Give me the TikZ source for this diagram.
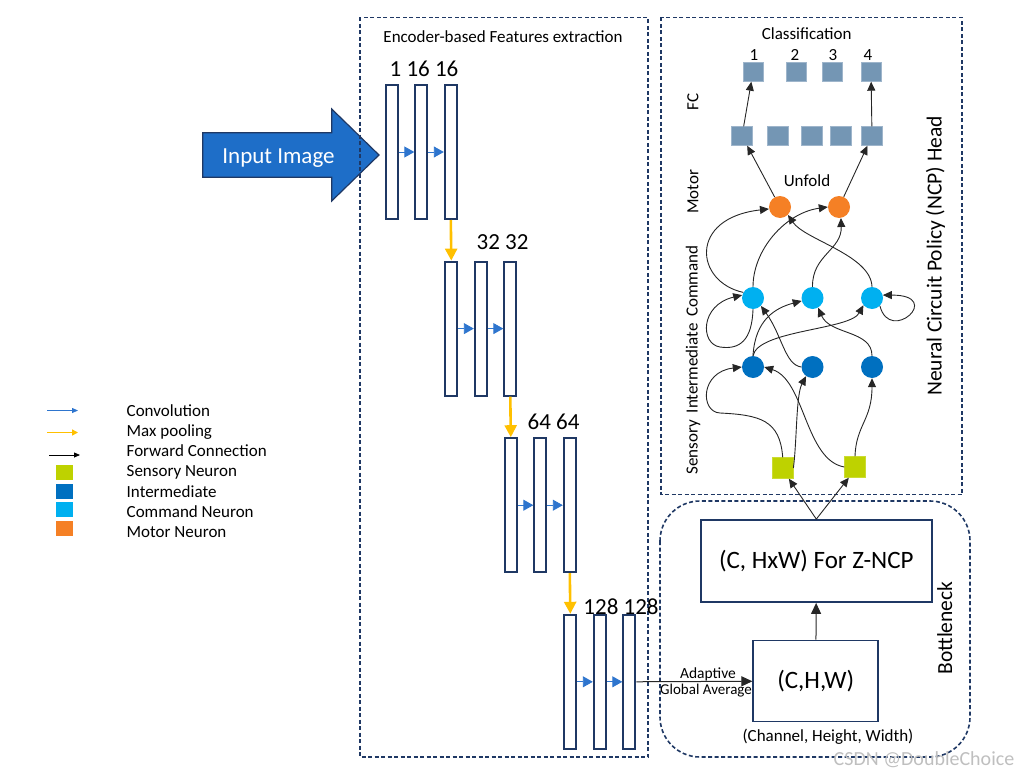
\documentclass[tikz,border=0pt]{standalone}
\usepackage{fontspec}
\setmainfont{Carlito}
\usetikzlibrary{arrows.meta}
\definecolor{navy}{RGB}{31,56,100}
\definecolor{convblue}{RGB}{46,117,206}
\definecolor{poolyellow}{RGB}{255,192,0}
\definecolor{sensorycol}{RGB}{190,210,0}
\definecolor{intercol}{RGB}{0,112,192}
\definecolor{commandcol}{RGB}{0,176,240}
\definecolor{motorcol}{RGB}{245,128,37}
\definecolor{fccol}{RGB}{116,150,180}
\definecolor{inputcol}{RGB}{30,110,200}
\tikzset{
    frame/.style={draw=navy, line width=1.6pt, dash pattern=on 4pt off 2.5pt},
    fmap/.style={draw=navy, line width=2pt, fill=white, minimum width=12pt, minimum height=134pt, inner sep=0pt},
    conv/.style={draw=convblue, line width=0.9pt, -{Triangle[length=10pt,width=11pt]}},
    pool/.style={draw=poolyellow, line width=2.6pt, -{Triangle[length=12pt,width=12pt]}},
    syn/.style={draw=black!85, line width=0.9pt, -{Triangle[length=9pt,width=8pt]}},
    bigarr/.style={draw=black!85, line width=1pt, -{Triangle[length=11pt,width=10pt]}},
    neuron/.style={circle, minimum size=22pt, inner sep=0pt},
    sensbox/.style={fill=sensorycol, draw=sensorycol!80!white, minimum size=21pt, inner sep=0pt},
    fcbox/.style={fill=fccol, draw=fccol!70!white, minimum width=20pt, minimum height=19pt, inner sep=0pt},
    legbox/.style={minimum width=17pt, minimum height=15pt, inner sep=0pt},
    legtxt/.style={anchor=base west, inner sep=0pt, font=\fontsize{17}{20}\selectfont},
    txt/.style={inner sep=0pt, font=\fontsize{17}{20}\selectfont},
    numtxt/.style={inner sep=0pt, font=\fontsize{23}{26}\selectfont},
    bigtxt/.style={inner sep=0pt, font=\fontsize{25}{28}\selectfont},
    sidetxt/.style={inner sep=0pt, rotate=90, font=\fontsize{21.5}{24}\selectfont},
    boxnode/.style={draw=navy, line width=1.8pt, fill=white, inner sep=0pt}
}
\begin{document}
\begin{tikzpicture}[x=1pt,y=-1pt]
                \useasboundingbox (0,0) rectangle (1025,776);

                % input arrow
                \draw[fill=inputcol, draw=navy, line width=1.2pt] (202.7,132.7) -- (331.7,132.7) -- (331.7,109) -- (379,155) -- (331.7,201) -- (331.7,177.3) -- (202.7,177.3) -- cycle;
                \node[numtxt, anchor=base, text=white] (inp) at (278.5,163.5) {Input Image};

                \draw[frame] (360,17.5) rectangle (648,757);
                \draw[frame] (661,17.5) rectangle (962,494.5);
                \draw[frame, rounded corners=40pt] (660,501) rectangle (970,757);

                % encoder
                \node[txt] (enc) at (503,37) {Encoder-based Features extraction};
                \foreach \g in {1,...,4} {
                    \foreach \k in {1,2,3} {
                        \node[fmap] (l\g\k) at ({391.8+(\g-1)*59.5+(\k-1)*29.5},{152+(\g-1)*176.6}) {};
                    }
                    \draw[conv] (l\g1) -- (l\g2);
                    \draw[conv] (l\g2) -- (l\g3);
                }
                \draw[pool] (l13.south) -- (l21.north);
                \draw[pool] (l23.south) -- (l31.north);
                \draw[pool] (l33.south) -- (l41.north);
                \node[numtxt] (lab1) at (424,69) {1 16 16};
                \node[numtxt] (lab2) at (502.5,242) {32 32};
                \node[numtxt] (lab3) at (553.5,422) {64 64};
                \node[numtxt] (lab4) at (621,607) {128 128};

                % bottleneck
                \node[boxnode, minimum width=231pt, minimum height=82pt, bigtxt] (z) at (816.3,561) {(C, HxW) For Z-NCP};
                \node[boxnode, minimum width=125pt, minimum height=81pt, bigtxt] (chw) at (815.8,681) {(C,H,W)};
                \node[txt] (chwtxt) at (828,737) {(Channel, Height, Width)};
                \draw[bigarr] (chw) -- (z);
                \draw[bigarr] (l43) -- (chw);
                \node[inner sep=0pt, font=\fontsize{15.5}{18}\selectfont] (adap) at (708,674) {Adaptive};
                \node[inner sep=0pt, font=\fontsize{15}{18}\selectfont] (gavg) at (706,691) {Global Average};
                \node[sidetxt] (bneck) at (944.7,628) {Bottleneck};

                % NCP head
                \node[txt] (cls) at (806.7,34) {Classification};
                \foreach \x [count=\i] in {754,795,833,868} {
                    \node[txt] (n\i) at (\x,55) {\i};
                }
                \foreach \x [count=\i] in {753,796,832,871} {
                    \node[fcbox] (o\i) at (\x,72) {};
                }
                \foreach \x [count=\i] in {742,778,812,840.5,872} {
                    \node[fcbox, minimum width=21pt] (f\i) at (\x,136) {};
                }
                \node[neuron, fill=motorcol] (m1) at (780,207) {};
                \node[neuron, fill=motorcol] (m2) at (839,207) {};
                \node[neuron, fill=commandcol] (c1) at (753,298) {};
                \node[neuron, fill=commandcol] (c2) at (812.5,298) {};
                \node[neuron, fill=commandcol] (c3) at (872,298) {};
                \node[neuron, fill=intercol] (i1) at (753,367) {};
                \node[neuron, fill=intercol] (i2) at (812.5,367) {};
                \node[neuron, fill=intercol] (i3) at (872,367) {};
                \node[sensbox] (s1) at (782.7,468) {};
                \node[sensbox] (s2) at (855,467) {};
                \node[txt] (unf) at (807,181) {Unfold};
                \node[txt, rotate=90] (fclab) at (693,102) {FC};
                \node[txt, rotate=90] (motlab) at (693,192) {Motor};
                \node[txt, rotate=90] (layers) at (693,360) {Sensory\, Intermediate\, Command};
                \node[sidetxt] (ncp) at (935.5,256) {Neural Circuit Policy (NCP) Head};

                \draw[syn] (f1) -- (o1);
                \draw[syn] (f5) -- (o4);
                \draw[syn] (m1) -- (f1);
                \draw[syn] (m2) -- (f5);
                \draw[syn] (c1.150) .. controls (695,282) and (688,218) .. (m1.190);
                \draw[syn] (c1.south) .. controls (752,340) and (740,350) .. (720,347) .. controls (700,344) and (700,305) .. (c1.165);
                \draw[syn] (c1.north) .. controls (753,250) and (785,213) .. (m2.west);
                \draw[syn] (c3.north) .. controls (871,255) and (805,240) .. (m1.-45);
                \draw[syn] (c2.north) .. controls (812,255) and (842,250) .. (m2.-80);
                \draw[syn] (c3.-45) .. controls (890,345) and (945,295) .. (c3.15);
                \draw[syn] (i1.north) .. controls (755,320) and (775,308) .. (c2.195);
                \draw[syn] (i1.north) .. controls (758,330) and (850,330) .. (c3.-140);
                \draw[syn] (i3.north) .. controls (872,330) and (830,335) .. (c2.-60);
                \draw[syn] (i2.west) .. controls (785,365) and (782,335) .. (c1.-45);
                \draw[syn] (s1.north) .. controls (780,420) and (760,415) .. (720,413) .. controls (700,412) and (700,372) .. (i1.west);
                \draw[syn] (s1.east) .. controls (797,440) and (796,395) .. (i2.-125);
                \draw[syn] (s2.west) .. controls (805,460) and (805,380) .. (i1.east);
                \draw[syn] (s2.north) .. controls (856,425) and (872,420) .. (i3.south);
                \draw[syn] (z.north) -- (s1.-60);
                \draw[syn] (z.north) -- (s2.-120);

                % legend
                \coordinate (lg1a) at (47,410.5);
                \coordinate (lg1b) at (78,410.5);
                \coordinate (lg2a) at (47,432.5);
                \coordinate (lg2b) at (78,432.5);
                \coordinate (lg3a) at (49,455);
                \coordinate (lg3b) at (80,455);
                \draw[draw=convblue, line width=0.8pt, -{Triangle[length=6pt,width=5pt]}] (lg1a) -- (lg1b);
                \draw[draw=poolyellow, line width=1.6pt, -{Triangle[length=6pt,width=6pt]}] (lg2a) -- (lg2b);
                \draw[draw=black, line width=0.8pt, -{Triangle[length=6pt,width=5pt]}] (lg3a) -- (lg3b);
                \node[legbox, fill=sensorycol] (lgs) at (64.5,472) {};
                \node[legbox, fill=intercol] (lgi) at (64.5,491.7) {};
                \node[legbox, fill=commandcol] (lgc) at (64.5,509) {};
                \node[legbox, fill=motorcol] (lgm) at (64.5,528) {};
                \node[legtxt] (lt1) at (126.5,416) {Convolution};
                \node[legtxt] (lt2) at (126.5,436.3) {Max pooling};
                \node[legtxt] (lt3) at (126.5,456.6) {Forward Connection};
                \node[legtxt] (lt4) at (126.5,476.9) {Sensory Neuron};
                \node[legtxt] (lt5) at (126.5,497.2) {Intermediate};
                \node[legtxt] (lt6) at (126.5,517.5) {Command Neuron};
                \node[legtxt] (lt7) at (126.5,537.8) {Motor Neuron};

                \node[inner sep=0pt, text=black!25, font=\fontsize{20}{22}\selectfont] (wm) at (924,760) {CSDN @DoubleChoice};
\end{tikzpicture}
\end{document}
